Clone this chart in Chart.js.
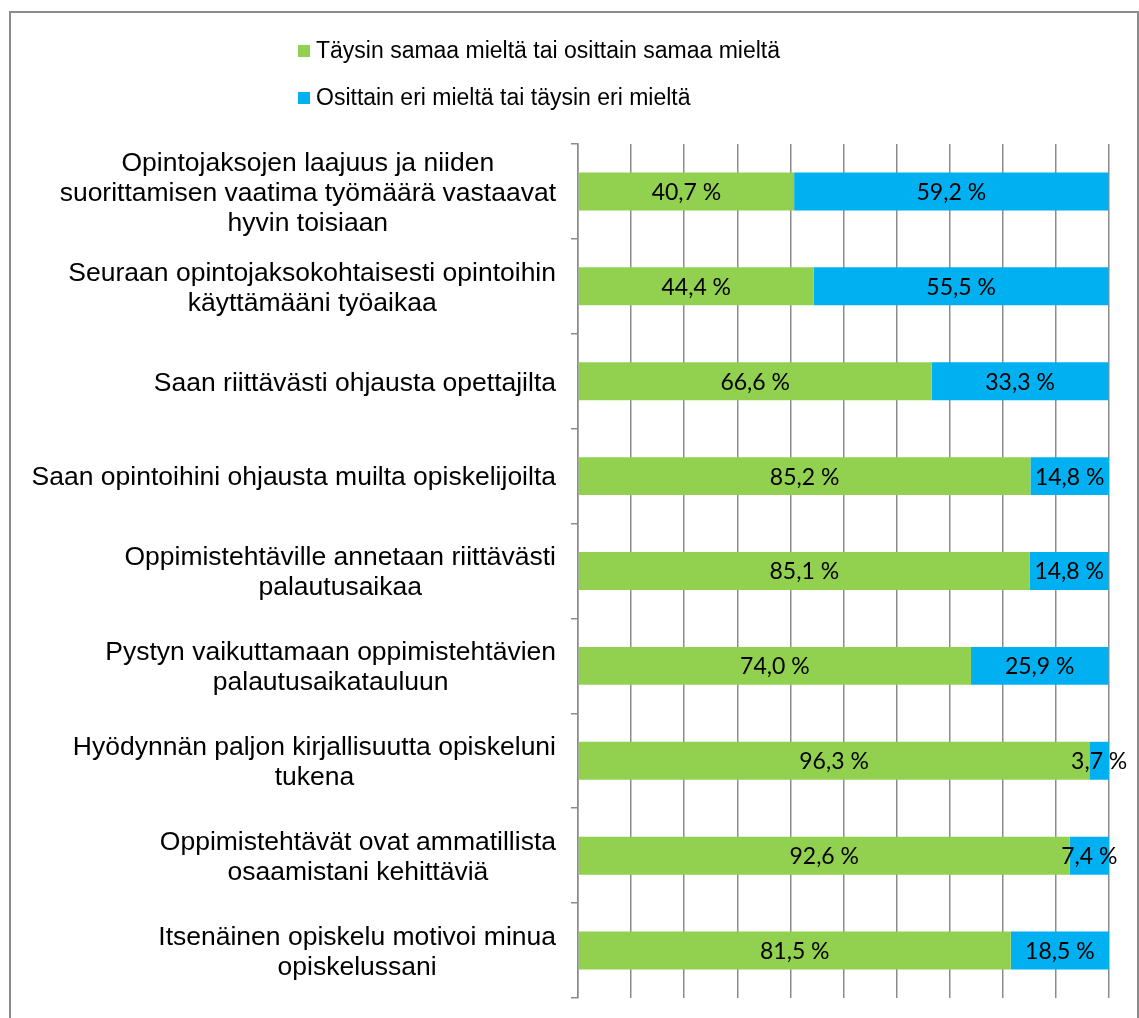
<!DOCTYPE html>
<html>
<head>
<meta charset="utf-8">
<script src="https://cdn.jsdelivr.net/npm/chart.js@4.4.1/dist/chart.umd.min.js"></script>
<style>
  html, body { margin: 0; padding: 0; background: #fff; }
  #wrap { position: relative; width: 1139px; height: 1018px; overflow: hidden; }
</style>
</head>
<body>
<div id="wrap"><canvas id="surveyChart" width="1139" height="1018"></canvas></div>
<script>
// categories (each label split into its lines)
const questions = [
  ['Opintojaksojen laajuus ja niiden', 'suorittamisen vaatima työmäärä vastaavat', 'hyvin toisiaan'],
  ['Seuraan opintojaksokohtaisesti opintoihin', 'käyttämääni työaikaa'],
  ['Saan riittävästi ohjausta opettajilta'],
  ['Saan opintoihini ohjausta muilta opiskelijoilta'],
  ['Oppimistehtäville annetaan riittävästi', 'palautusaikaa'],
  ['Pystyn vaikuttamaan oppimistehtävien', 'palautusaikatauluun'],
  ['Hyödynnän paljon kirjallisuutta opiskeluni', 'tukena'],
  ['Oppimistehtävät ovat ammatillista', 'osaamistani kehittäviä'],
  ['Itsenäinen opiskelu motivoi minua', 'opiskelussani']
];

const seriesNames = ['Täysin samaa mieltä tai osittain samaa mieltä', 'Osittain eri mieltä tai täysin eri mieltä'];
const agreeValues    = [40.7, 44.4, 66.6, 85.2, 85.1, 74.0, 96.3, 92.6, 81.5];
const disagreeValues = [59.2, 55.5, 33.3, 14.8, 14.8, 25.9, 3.7, 7.4, 18.5];

const GREEN = '#92D050';
const BLUE = '#00B0F0';
const GRID = '#8c8c8c';

function fmtPct(v) {
  return v.toFixed(1).replace('.', ',') + ' %';
}

// frame, legend, category labels and value labels
const decorPlugin = {
  id: 'decor',
  beforeDraw(chart) {
    const c = chart.ctx;
    c.save();
    c.strokeStyle = '#8c8c8c';
    c.lineWidth = 2;
    c.strokeRect(10, 12, 1128, 1030);
    c.restore();
  },
  afterDraw(chart) {
    const c = chart.ctx;
    c.save();

    // legend
    const colors = [GREEN, BLUE];
    const rowY = [51, 98];
    c.font = '23px "Liberation Sans", Arial, sans-serif';
    c.textBaseline = 'middle';
    c.textAlign = 'left';
    seriesNames.forEach((name, i) => {
      c.fillStyle = colors[i];
      c.fillRect(298, rowY[i] - 6, 12, 12);
      c.fillStyle = '#000';
      c.fillText(name, 316, rowY[i] + 1);
    });

    // category labels, centred block with right edge near the axis
    const yScale = chart.scales.y;
    const lineH = 30;
    c.font = '26.5px "Liberation Sans", Arial, sans-serif';
    questions.forEach((lines, i) => {
      const cy = yScale.getPixelForValue(i) + 2;
      let maxW = 0;
      lines.forEach(l => { maxW = Math.max(maxW, c.measureText(l).width); });
      const cx = 556 - maxW / 2;
      c.textAlign = 'center';
      lines.forEach((l, k) => {
        const y = cy + (k - (lines.length - 1) / 2) * lineH;
        c.fillText(l, cx, y);
      });
    });

    // value labels in bar segments
    c.font = '23px Lato, "Open Sans", sans-serif';
    c.textAlign = 'center';
    c.textBaseline = 'middle';
    c.fillStyle = '#000';
    chart.data.datasets.forEach((ds, di) => {
      const meta = chart.getDatasetMeta(di);
      meta.data.forEach((bar, j) => {
        const mid = (bar.x + bar.base) / 2;
        c.fillText(fmtPct(ds.data[j]), mid, bar.y + 1);
      });
    });

    c.restore();
  }
};

const ctx = document.getElementById('surveyChart');

new Chart(ctx, {
  type: 'bar',
  data: {
    labels: questions,
    datasets: [
      {
        label: seriesNames[0],
        data: agreeValues,
        backgroundColor: GREEN,
        categoryPercentage: 0.4,
        barPercentage: 1.0
      },
      {
        label: seriesNames[1],
        data: disagreeValues,
        backgroundColor: BLUE,
        categoryPercentage: 0.4,
        barPercentage: 1.0
      }
    ]
  },
  options: {
    indexAxis: 'y',
    responsive: false,
    animation: false,
    layout: { padding: { top: 144, bottom: 20, right: 30, left: 0 } },
    plugins: {
      legend: { display: false },
      tooltip: { enabled: false },
      title: { display: false }
    },
    scales: {
      x: {
        stacked: true,
        min: 0,
        max: 100,
        ticks: { display: false, stepSize: 10 },
        grid: { color: GRID, lineWidth: 1.5, drawTicks: false },
        border: { display: false },
        afterFit: s => { s.height = 0; }
      },
      y: {
        stacked: true,
        ticks: { display: false },
        grid: { drawOnChartArea: false, drawTicks: true, tickLength: 7, color: GRID, lineWidth: 1.5, offset: true },
        border: { display: true, color: GRID, width: 1.5 },
        afterFit: s => { s.width = 578; }
      }
    }
  },
  plugins: [decorPlugin]
});
</script>
</body>
</html>
